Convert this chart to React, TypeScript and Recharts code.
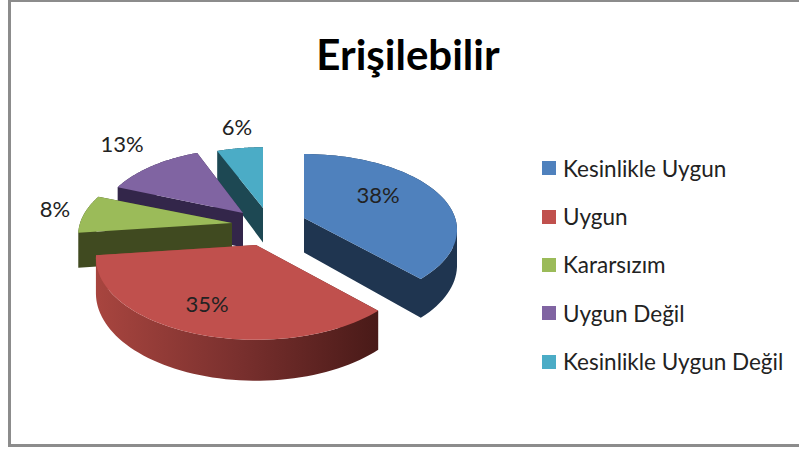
import { Legend, Pie, PieChart } from 'recharts'

const categories = ['Kesinlikle Uygun', 'Uygun', 'Kararsızım', 'Uygun Değil', 'Kesinlikle Uygun Değil']
const shares = [38, 35, 8, 13, 6]
const topColors = ['#4f81bd', '#c0504d', '#9bbb59', '#8064a2', '#4bacc6']
const wallColors = ['#1f3550', 'url(#redWall)', '#404a20', '#33264a', '#1d4853']

// how far each exploded slice sits from the pie centre, on screen
const sliceOffsets = [
  { dx: 42, dy: -4 },
  { dx: -6, dy: 23 },
  { dx: -30, dy: 1 },
  { dx: -19, dy: -9 },
  { dx: 1, dy: -14 },
]
const sliceScale = [
  { sx: 0.975, sy: 1 },
  { sx: 1.02, sy: 1.08 },
  { sx: 0.98, sy: 1.02 },
  { sx: 0.92, sy: 1 },
  { sx: 0.92, sy: 0.95 },
]
const labelOffsets = [
  { dx: 74, dy: -24 },
  { dx: -49, dy: 58 },
  { dx: -177, dy: -15 },
  { dx: -121, dy: -70 },
  { dx: -26, dy: -82 },
]

const CX = 262
const CY = 222
const RADIUS = 155
const SQUASH = 74 / 155
const TILT = 0.157
const DEPTH = 34.5
const FONT = 'Lato, "Open Sans", sans-serif'

// drawn back to front so the front slices cover the walls behind them
const rows = categories
  .map((name, i) => ({ name, value: shares[i], fill: topColors[i], wall: wallColors[i], slot: i }))
  .reverse()

type Pt = { x: number; y: number; k: number }

function project(angle: number, slot: number, ox: number, oy: number): Pt {
  const rad = (angle * Math.PI) / 180
  const u = Math.cos(rad)
  const v = -Math.sin(rad)
  const k = 1 / (1 - TILT * v)
  return {
    x: ox + u * RADIUS * sliceScale[slot].sx * k,
    y: oy + v * RADIUS * SQUASH * sliceScale[slot].sy * k,
    k,
  }
}

// every quad gets the same winding so the one path fills as a union, without seams
function wallQuad(p: Pt, q: Pt) {
  const a = [p.x, p.y]
  const b = [q.x, q.y]
  const c = [q.x, q.y + DEPTH * q.k]
  const d = [p.x, p.y + DEPTH * p.k]
  const pts = [a, b, c, d]
  const area = pts.reduce((sum, cur, i) => {
    const next = pts[(i + 1) % 4]
    return sum + cur[0] * next[1] - next[0] * cur[1]
  }, 0)
  const ordered = area < 0 ? [...pts].reverse() : pts
  return ordered.map((pt, i) => `${i ? 'L' : 'M'}${pt[0]} ${pt[1]}`).join(' ') + ' Z'
}

function Slice3D(props: any) {
  const { cx, cy, startAngle, endAngle, payload, fill } = props
  const offset = sliceOffsets[payload.slot]
  const ox = cx + offset.dx
  const oy = cy + offset.dy
  const steps = 60
  const outline: Pt[] = [{ x: ox, y: oy, k: 1 }]
  for (let s = 0; s <= steps; s++) {
    const angle = startAngle + ((endAngle - startAngle) * s) / steps
    outline.push(project(angle, payload.slot, ox, oy))
  }
  const top = outline.map((p, i) => `${i ? 'L' : 'M'}${p.x} ${p.y}`).join(' ') + ' Z'
  const walls = outline.map((p, i) => wallQuad(p, outline[(i + 1) % outline.length])).join(' ')
  return (
    <g>
      <path d={walls} fill={payload.wall} fillRule="nonzero" />
      <path d={top} fill={fill} />
    </g>
  )
}

function renderLabel(props: any) {
  const slot = props.payload?.slot ?? props.slot
  const offset = sliceOffsets[slot]
  const place = labelOffsets[slot]
  return (
    <text
      x={CX + offset.dx + place.dx}
      y={CY + offset.dy + place.dy}
      textAnchor="middle"
      dominantBaseline="central"
      fontFamily={FONT}
      fontSize={22}
      fill="#222"
    >
      {props.value}%
    </text>
  )
}

function LegendList({ payload }: any) {
  const items = [...(payload ?? [])].reverse()
  return (
    <div>
      {items.map((item: any) => (
        <div
          key={item.value}
          style={{ display: 'flex', alignItems: 'center', height: 48.4, fontFamily: FONT, fontSize: 22.5, color: '#222' }}
        >
          <span style={{ width: 14, height: 14, marginRight: 7, background: item.color, flex: 'none' }} />
          <span style={{ whiteSpace: 'nowrap' }}>{item.value}</span>
        </div>
      ))}
    </div>
  )
}

export default function App() {
  return (
    <div style={{ position: 'fixed', left: 0, top: 0, width: 799, height: 450, overflow: 'hidden', background: '#fff' }}>
      <div
        style={{
          position: 'absolute',
          left: 8,
          top: 0,
          width: 820,
          height: 442,
          borderLeft: '3px solid #8c8c8c',
          borderTop: '2px solid #8c8c8c',
          borderBottom: '3px solid #8c8c8c',
        }}
      />
      <div
        style={{
          position: 'absolute',
          left: 208,
          top: 30,
          width: 400,
          textAlign: 'center',
          fontFamily: FONT,
          fontWeight: 700,
          fontSize: 42,
          lineHeight: '48px',
          color: '#000',
        }}
      >
        Erişilebilir
      </div>
      <PieChart width={799} height={450} margin={{ top: 0, right: 0, bottom: 0, left: 0 }} style={{ position: 'absolute', left: 0, top: 0 }}>
        <defs>
          <linearGradient id="redWall" gradientUnits="userSpaceOnUse" x1={96} y1={0} x2={378} y2={0}>
            <stop offset="0%" stopColor="#a8453f" />
            <stop offset="50%" stopColor="#7a302e" />
            <stop offset="100%" stopColor="#491a18" />
          </linearGradient>
        </defs>
        <Pie
          data={rows}
          dataKey="value"
          nameKey="name"
          cx={CX}
          cy={CY}
          innerRadius={0}
          outerRadius={RADIUS}
          startAngle={90}
          endAngle={450}
          paddingAngle={0}
          stroke="none"
          shape={Slice3D}
          label={renderLabel}
          labelLine={false}
          isAnimationActive={false}
        />
        <Legend
          layout="vertical"
          align="right"
          verticalAlign="top"
          itemSorter={null}
          content={<LegendList />}
          wrapperStyle={{ position: 'absolute', left: 542, top: 144, width: 257, right: 'auto' }}
        />
      </PieChart>
    </div>
  )
}
